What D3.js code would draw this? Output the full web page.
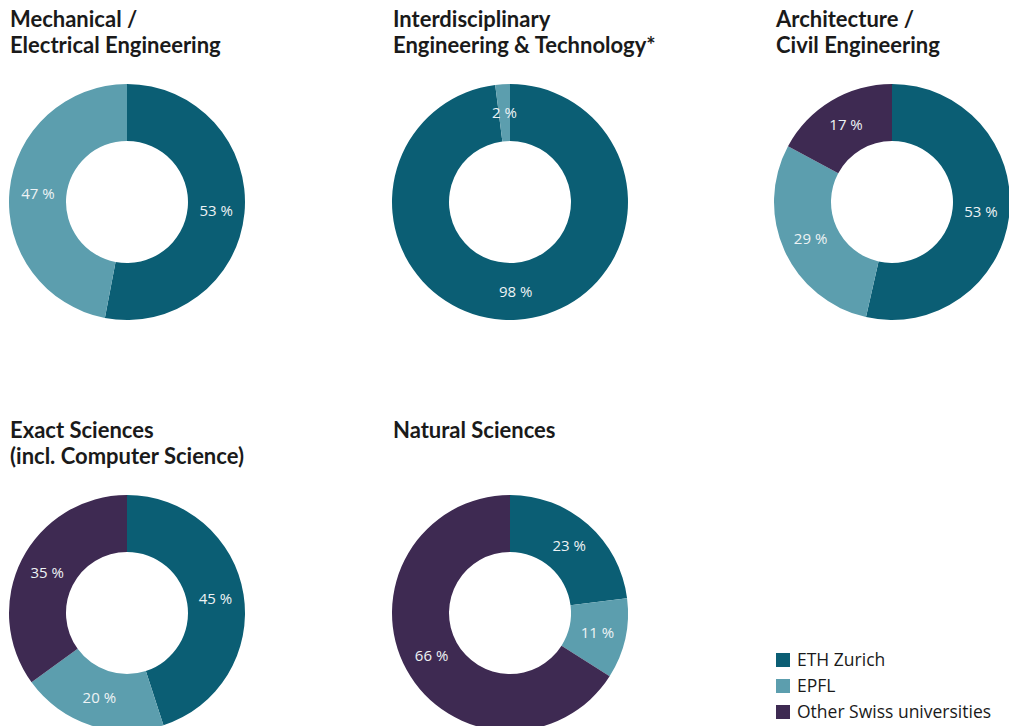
<!DOCTYPE html>
<html>
<head>
<meta charset="utf-8">
<script src="https://cdn.jsdelivr.net/npm/d3@7"></script>
<style>
  body { margin: 0; background: #fff; }
  svg { display: block; }
</style>
</head>
<body>
<svg></svg>
<script>
const width = 1009;
const height = 726;

// data
const universities = ["ETH Zurich", "EPFL", "Other Swiss universities"];
const fields = [
    ["Mechanical /", "Electrical Engineering"],
    ["Interdisciplinary", "Engineering & Technology*"],
    ["Architecture /", "Civil Engineering"],
    ["Exact Sciences", "(incl. Computer Science)"],
    ["Natural Sciences"]
];
const ethShare = [53, 98, 53, 45, 23];
const epflShare = [47, 2, 29, 20, 11];
const otherShare = [0, 0, 17, 35, 66];

const colors = ["#0b5e74", "#5c9eae", "#3e2a52"];
const color = d3.scaleOrdinal().domain(universities).range(colors);

let svg = d3.select("svg").attr("width", width).attr("height", height);

const outerR = 118;
const innerR = 61;
const centers = [
    { x: 127, y: 202 }, { x: 510, y: 202 }, { x: 892, y: 202 },
    { x: 127, y: 613 }, { x: 510, y: 613 }
];
const titlePos = [
    { x: 10, y: 27 }, { x: 393, y: 27 }, { x: 776, y: 27 },
    { x: 10, y: 438 }, { x: 393, y: 438 }
];

const pie = d3.pie().sort(null).value(d => d.value);
const arc = d3.arc().innerRadius(innerR).outerRadius(outerR);
const labelArc = d3.arc().innerRadius((innerR + outerR) / 2).outerRadius((innerR + outerR) / 2);

fields.forEach((lines, i) => {
    let vals = [
        { name: universities[0], value: ethShare[i] },
        { name: universities[1], value: epflShare[i] },
        { name: universities[2], value: otherShare[i] }
    ].filter(d => d.value > 0);

    let title = svg.append("text")
        .attr("x", titlePos[i].x).attr("y", titlePos[i].y)
        .attr("font-family", "Lato, sans-serif")
        .attr("font-weight", "bold")
        .attr("font-size", 22)
        .attr("fill", "#1a1a1a");
    lines.forEach((l, j) => {
        title.append("tspan").attr("x", titlePos[i].x).attr("dy", j === 0 ? 0 : 26).text(l);
    });

    let g = svg.append("g").attr("transform", `translate(${centers[i].x},${centers[i].y})`);
    let arcs = pie(vals);
    g.selectAll("path").data(arcs).join("path")
        .attr("d", arc)
        .attr("fill", d => color(d.data.name));
    g.selectAll("text").data(arcs).join("text")
        .attr("transform", d => `translate(${labelArc.centroid(d)})`)
        .attr("text-anchor", "middle")
        .attr("dy", "0.35em")
        .attr("font-family", "'Open Sans', sans-serif")
        .attr("font-size", 15)
        .attr("fill", "#eef3f5")
        .text(d => d.data.value + " %");
});

// legend
let legend = svg.append("g").attr("transform", "translate(776,653)");
universities.forEach((u, i) => {
    legend.append("rect").attr("x", 0).attr("y", i * 26).attr("width", 14).attr("height", 14).attr("fill", color(u));
    legend.append("text").attr("x", 21).attr("y", i * 26 + 7).attr("dy", "0.35em")
        .attr("font-family", "'Open Sans', sans-serif").attr("font-size", 17.5).attr("fill", "#1a1a1a")
        .text(u);
});
</script>
</body>
</html>
